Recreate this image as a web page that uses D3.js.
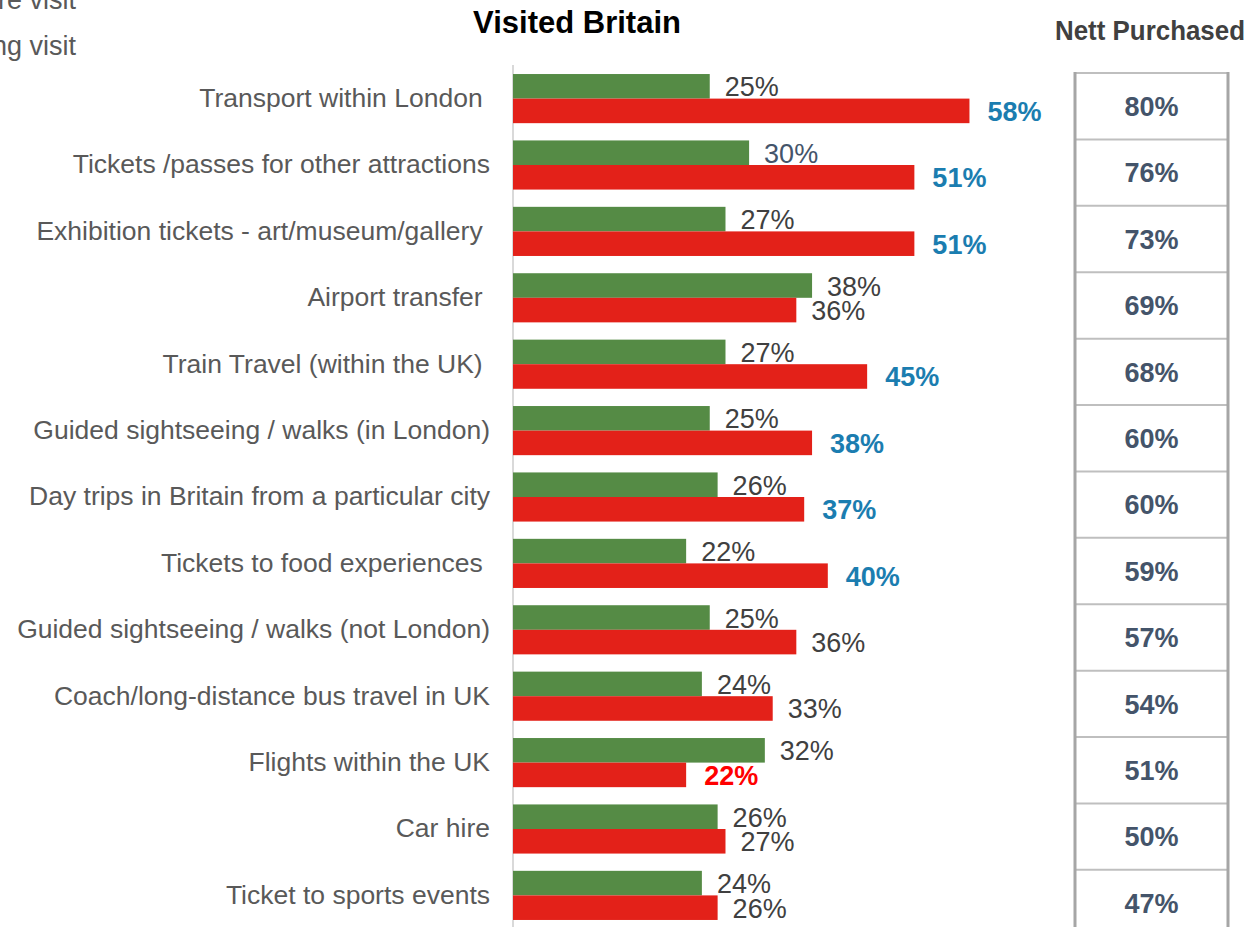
<!DOCTYPE html>
<html>
<head>
<meta charset="utf-8">
<script src="https://cdn.jsdelivr.net/npm/d3@7"></script>
<style>
  html, body { margin: 0; padding: 0; background: #fff; overflow: hidden; }
  text { font-family: "Liberation Sans", Arial, sans-serif; white-space: pre; }
</style>
</head>
<body>
<svg id="chart" width="1253" height="927"></svg>
<script>
// data
var categories = [
  "Transport within London ",
  "Tickets /passes for other attractions",
  "Exhibition tickets - art/museum/gallery ",
  "Airport transfer ",
  "Train Travel (within the UK) ",
  "Guided sightseeing / walks (in London)",
  "Day trips in Britain from a particular city",
  "Tickets to food experiences ",
  "Guided sightseeing / walks (not London)",
  "Coach/long-distance bus travel in UK",
  "Flights within the UK",
  "Car hire",
  "Ticket to sports events"
];
var beforeVisit = [25, 30, 27, 38, 27, 25, 26, 22, 25, 24, 32, 26, 24];
var duringVisit = [58, 51, 51, 36, 45, 38, 37, 40, 36, 33, 22, 27, 26];
var nettPurchased = [80, 76, 73, 69, 68, 60, 60, 59, 57, 54, 51, 50, 47];
// label highlight for "during" values: 'up' = blue bold, 'down' = red bold
var duringFlag = ["up", "up", "up", "", "up", "up", "up", "up", "", "", "down", "", ""];
var seriesNames = ["Purchased before visit", "Purchased during visit"];

var svg = d3.select('#chart');

var green = '#558B45', red = '#E32119';
var x = d3.scaleLinear().domain([0, 100]).range([513, 1300]);
var y = d3.scaleBand().domain(categories)
  .range([65.4, 65.4 + 13 * 66.4])
  .paddingInner(0.26).paddingOuter(0.13);
var ySub = d3.scaleBand().domain(['before', 'during']).range([0, y.bandwidth()]);

// legend (cut off at the left edge, as in the original)
svg.selectAll('text.legend')
  .data(seriesNames)
  .enter().append('text')
  .attr('class', 'legend')
  .attr('x', 76)
  .attr('y', function(d, i) { return 9 + i * 46; })
  .attr('text-anchor', 'end')
  .style('font-size', '27px')
  .style('fill', '#595959')
  .text(function(d) { return d; });

// titles
svg.append('text')
  .attr('x', 577).attr('y', 33)
  .attr('text-anchor', 'middle')
  .style('font-size', '31px').style('font-weight', 'bold').style('fill', '#000')
  .text('Visited Britain');

svg.append('text')
  .attr('x', 1150).attr('y', 40)
  .attr('text-anchor', 'middle')
  .attr('textLength', 190).attr('lengthAdjust', 'spacingAndGlyphs')
  .style('font-family', '"Liberation Sans Narrow", "Arial Narrow", "Liberation Sans", sans-serif')
  .style('font-size', '27px').style('font-weight', 'bold').style('fill', '#404040')
  .text('Nett Purchased');

// axis line
svg.append('line')
  .attr('x1', x(0)).attr('x2', x(0))
  .attr('y1', 65).attr('y2', 927)
  .style('stroke', '#D9D9D9').style('stroke-width', 2);

// category labels
svg.selectAll('text.cat')
  .data(categories)
  .enter().append('text')
  .attr('class', 'cat')
  .attr('x', 490)
  .attr('y', function(d) { return y(d) + y.bandwidth() / 2; })
  .attr('dy', '0.32em')
  .attr('text-anchor', 'end')
  .style('font-size', '26.5px')
  .style('fill', '#595959')
  .text(function(d) { return d; });

var rows = categories.map(function(c, i) {
  return { cat: c, before: beforeVisit[i], during: duringVisit[i], nett: nettPurchased[i], flag: duringFlag[i] };
});

// bars
svg.selectAll('rect.before')
  .data(rows).enter().append('rect')
  .attr('class', 'before')
  .attr('x', x(0))
  .attr('y', function(d) { return y(d.cat) + ySub('before'); })
  .attr('width', function(d) { return x(d.before) - x(0); })
  .attr('height', ySub.bandwidth())
  .style('fill', green);

svg.selectAll('rect.during')
  .data(rows).enter().append('rect')
  .attr('class', 'during')
  .attr('x', x(0))
  .attr('y', function(d) { return y(d.cat) + ySub('during'); })
  .attr('width', function(d) { return x(d.during) - x(0); })
  .attr('height', ySub.bandwidth())
  .style('fill', red);

// value labels
svg.selectAll('text.vbefore')
  .data(rows).enter().append('text')
  .attr('class', 'vbefore')
  .attr('x', function(d) { return x(d.before) + 15; })
  .attr('y', function(d) { return y(d.cat) + ySub('before') + ySub.bandwidth() / 2; })
  .attr('dy', '0.37em')
  .style('font-size', '27px')
  .style('fill', function(d, i) { return i === 1 ? '#44546A' : '#404040'; })
  .text(function(d) { return d.before + '%'; });

svg.selectAll('text.vduring')
  .data(rows).enter().append('text')
  .attr('class', 'vduring')
  .attr('x', function(d) { return x(d.during) + (d.flag ? 18 : 15); })
  .attr('y', function(d) { return y(d.cat) + ySub('during') + ySub.bandwidth() / 2; })
  .attr('dy', '0.37em')
  .style('font-size', '27px')
  .style('font-weight', function(d) { return d.flag ? 'bold' : 'normal'; })
  .style('fill', function(d) {
    if (d.flag === 'up') return '#1B7DB0';
    if (d.flag === 'down') return '#FF0000';
    return '#404040';
  })
  .text(function(d) { return d.during + '%'; });

// nett purchased table
var table = svg.append('g').attr('class', 'table');
var tx0 = 1075, tx1 = 1228;
table.selectAll('line.h')
  .data(rows).enter().append('line')
  .attr('class', 'h')
  .attr('x1', tx0).attr('x2', tx1)
  .attr('y1', function(d) { return y(d.cat) - 1; })
  .attr('y2', function(d) { return y(d.cat) - 1; })
  .style('stroke', '#BFBFBF').style('stroke-width', 2);

table.selectAll('line.v')
  .data([tx0, tx1]).enter().append('line')
  .attr('class', 'v')
  .attr('x1', function(d) { return d; }).attr('x2', function(d) { return d; })
  .attr('y1', y(categories[0]) - 2).attr('y2', 927)
  .style('stroke', '#A6A6A6').style('stroke-width', 3);

table.selectAll('text.nett')
  .data(rows).enter().append('text')
  .attr('class', 'nett')
  .attr('x', (tx0 + tx1) / 2)
  .attr('y', function(d) { return y(d.cat) - 1 + y.step() / 2; })
  .attr('dy', '0.36em')
  .attr('text-anchor', 'middle')
  .style('font-size', '27px').style('font-weight', 'bold').style('fill', '#44546A')
  .text(function(d) { return d.nett + '%'; });
</script>
</body>
</html>
